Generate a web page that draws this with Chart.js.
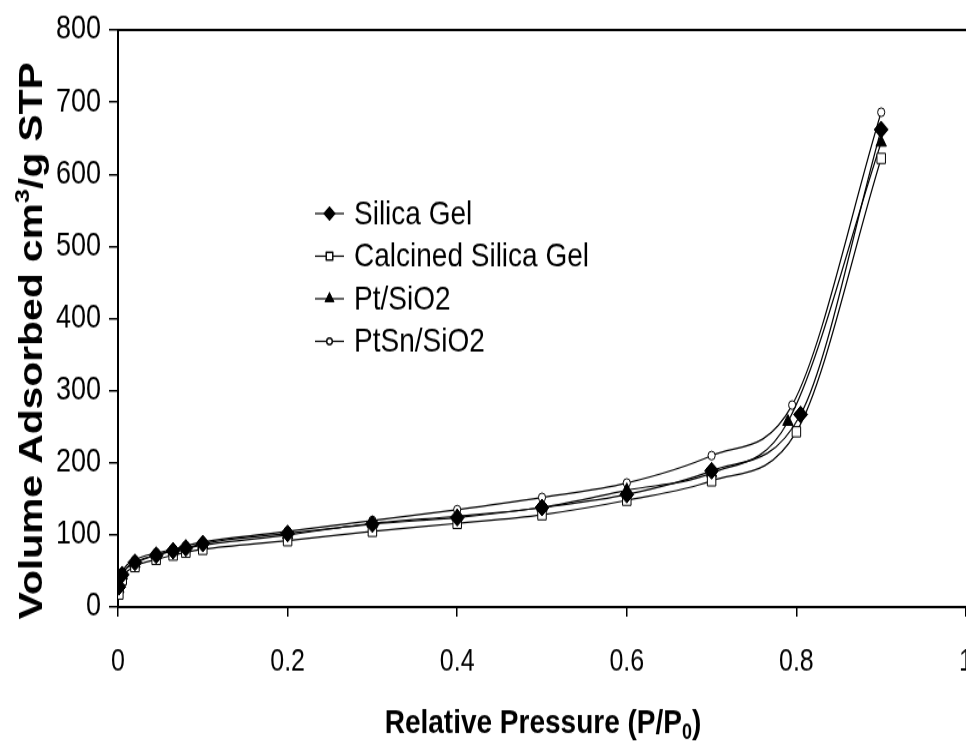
<!DOCTYPE html>
<html>
<head>
<meta charset="utf-8">
<script src="https://cdn.jsdelivr.net/npm/chart.js@4"></script>
<style>
  html, body { margin: 0; padding: 0; background: #fff; overflow: hidden; }
</style>
</head>
<body>
<!-- the original picture is stretched vertically, so the canvas is too -->
<canvas id="chart" width="966" height="621" style="display:block;width:966px;height:745px"></canvas>
<script>
// data (relative pressure -> volume adsorbed)
const seriesNames = ["Silica Gel", "Calcined Silica Gel", "Pt/SiO2", "PtSn/SiO2"];

const silicaX = [0.001, 0.005, 0.02, 0.045, 0.065, 0.08, 0.1, 0.2, 0.3, 0.4, 0.5, 0.6, 0.7, 0.805, 0.9];
const silicaY = [28, 45, 62, 72, 78, 82, 88, 102, 115, 124, 138, 156, 189, 267, 662];

const calcinedX = [0.001, 0.005, 0.02, 0.045, 0.065, 0.08, 0.1, 0.2, 0.3, 0.4, 0.5, 0.6, 0.7, 0.8, 0.9];
const calcinedY = [18, 38, 56, 66, 72, 76, 80, 92, 105, 116, 128, 148, 175, 243, 622];

const ptX = [0.001, 0.005, 0.02, 0.045, 0.065, 0.08, 0.1, 0.2, 0.3, 0.4, 0.5, 0.6, 0.7, 0.79, 0.9];
const ptY = [25, 44, 60, 72, 78, 82, 86, 100, 116, 126, 138, 162, 186, 257, 644];

const ptsnX = [0.001, 0.005, 0.02, 0.045, 0.065, 0.08, 0.1, 0.2, 0.3, 0.4, 0.5, 0.6, 0.7, 0.795, 0.9];
const ptsnY = [30, 48, 65, 75, 80, 85, 90, 105, 120, 135, 152, 172, 210, 280, 686];

const xTicks = [0, 0.2, 0.4, 0.6, 0.8, 1];
const yTicks = [0, 100, 200, 300, 400, 500, 600, 700, 800];

const FONT = "'Liberation Sans', Arial, sans-serif";

const toPoints = (xs, ys) => xs.map((x, i) => ({ x: x, y: ys[i] }));

// marker look per series: [style, radius, fill]
const markers = [
  ["rectRot", 7, "#000"],
  ["rect", 6, "#fff"],
  ["triangle", 6, "#000"],
  ["circle", 3.6, "#fff"]
];

const datasets = [
  toPoints(silicaX, silicaY),
  toPoints(calcinedX, calcinedY),
  toPoints(ptX, ptY),
  toPoints(ptsnX, ptsnY)
].map((pts, i) => ({
  label: seriesNames[i],
  data: pts,
  showLine: true,
  borderColor: "#000",
  borderWidth: 1.2,
  cubicInterpolationMode: "monotone",
  pointStyle: markers[i][0],
  pointRadius: markers[i][1],
  pointBackgroundColor: markers[i][2],
  pointBorderColor: "#000",
  pointBorderWidth: 1
}));

// draws top frame line, axis titles and the legend box
const overlay = {
  id: "overlay",
  afterDraw(chart) {
    const ctx = chart.ctx;
    const a = chart.chartArea;
    ctx.save();

    // top border
    ctx.strokeStyle = "#000";
    ctx.lineWidth = 2;
    ctx.beginPath();
    ctx.moveTo(a.left, a.top);
    ctx.lineTo(a.right + 5, a.top);
    ctx.stroke();

    ctx.fillStyle = "#000";
    ctx.textBaseline = "alphabetic";

    // y title, rotated, with superscript 3
    ctx.save();
    ctx.translate(42, 284);
    ctx.rotate(-Math.PI / 2);
    const big = "bold 34px " + FONT, small = "bold 21px " + FONT;
    ctx.font = big;
    const p1 = "Volume Adsorbed cm", p3 = "/g STP";
    const w1 = ctx.measureText(p1).width, w3 = ctx.measureText(p3).width;
    ctx.font = small;
    const w2 = ctx.measureText("3").width;
    let x = -(w1 + w2 + w3) / 2;
    ctx.font = big;
    ctx.fillText(p1, x, 0);
    x += w1;
    ctx.font = small;
    ctx.fillText("3", x, -13);
    x += w2;
    ctx.font = big;
    ctx.fillText(p3, x, 0);
    ctx.restore();

    // x title with subscript 0
    const xb = "bold 28px " + FONT, xs = "bold 18px " + FONT;
    ctx.font = xb;
    const q1 = "Relative Pressure (P/P", q3 = ")";
    const v1 = ctx.measureText(q1).width, v3 = ctx.measureText(q3).width;
    ctx.font = xs;
    const v2 = ctx.measureText("0").width;
    let tx = 543 - (v1 + v2 + v3) / 2;
    const ty = 611;
    ctx.font = xb;
    ctx.fillText(q1, tx, ty);
    tx += v1;
    ctx.font = xs;
    ctx.fillText("0", tx, ty + 5);
    tx += v2;
    ctx.font = xb;
    ctx.fillText(q3, tx, ty);

    // legend
    const rowY = [178, 213.5, 249, 284.5];
    ctx.font = "28px " + FONT;
    ctx.textBaseline = "middle";
    seriesNames.forEach((name, i) => {
      const y = rowY[i];
      ctx.strokeStyle = "#000";
      ctx.lineWidth = 1.2;
      ctx.beginPath();
      ctx.moveTo(315, y);
      ctx.lineTo(344, y);
      ctx.stroke();
      Chart.helpers.drawPoint(ctx, {
        pointStyle: markers[i][0],
        radius: markers[i][1] * 0.75,
        borderWidth: 1
      }, 329.5, y);
      ctx.fillStyle = markers[i][2];
      ctx.fill();
      ctx.stroke();
      ctx.fillStyle = "#000";
      ctx.fillText(name, 354, y + 1);
    });

    ctx.restore();
  }
};

new Chart(document.getElementById("chart"), {
  type: "scatter",
  data: { datasets: datasets },
  plugins: [overlay],
  options: {
    responsive: false,
    animation: false,
    devicePixelRatio: 1,
    layout: { autoPadding: false, padding: { top: 25, right: -4, left: 0, bottom: 0 } },
    plugins: {
      legend: { display: false },
      tooltip: { enabled: false }
    },
    scales: {
      x: {
        type: "linear",
        min: 0,
        max: 1,
        afterBuildTicks: s => { s.ticks = xTicks.map(v => ({ value: v })); },
        afterFit: s => { s.height = 115; s.paddingLeft = 0; s.paddingRight = 0; },
        ticks: {
          color: "#000",
          font: { family: FONT, size: 25 },
          padding: 23,
          maxRotation: 0,
          callback: v => String(+v.toFixed(1))
        },
        grid: { drawOnChartArea: false, tickLength: 8, color: "#000", lineWidth: 1.5 },
        border: { color: "#000", width: 2 }
      },
      y: {
        min: 0,
        max: 800,
        afterBuildTicks: s => { s.ticks = yTicks.map(v => ({ value: v })); },
        afterFit: s => { s.width = 118; s.paddingTop = 0; s.paddingBottom = 0; },
        ticks: {
          color: "#000",
          font: { family: FONT, size: 27 },
          padding: 8
        },
        grid: { drawOnChartArea: false, tickLength: 9, color: "#000", lineWidth: 1.5 },
        border: { color: "#000", width: 2 }
      }
    }
  }
});
</script>
</body>
</html>
